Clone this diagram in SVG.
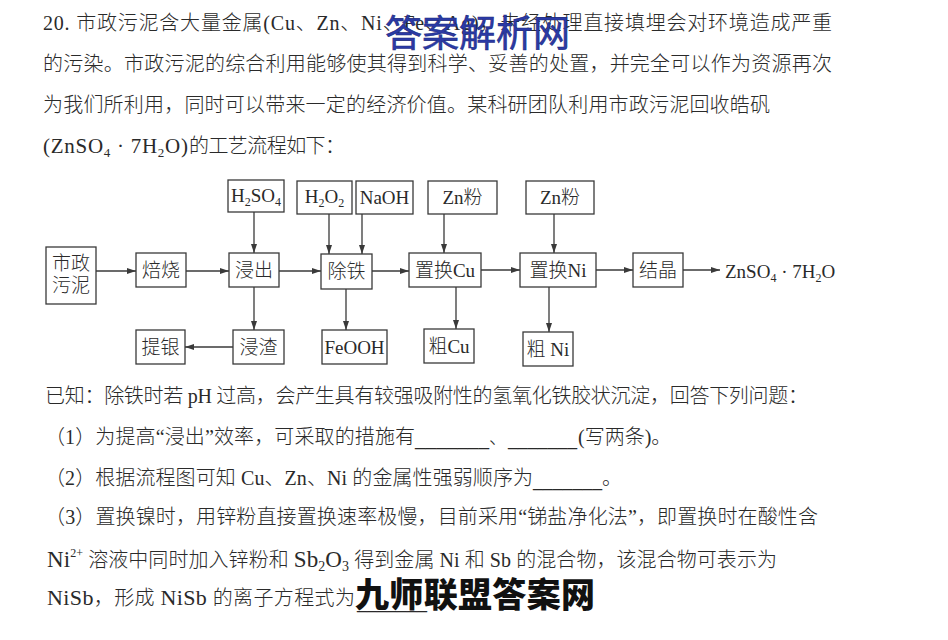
<svg xmlns="http://www.w3.org/2000/svg" width="948" height="640" viewBox="0 0 948 640">
<style>
.t{font-family:"Liberation Serif","Noto Sans CJK SC",serif;font-size:20px;fill:#2a2a2a;font-weight:300}
.b{font-family:"Liberation Serif","Noto Sans CJK SC",serif;font-size:19px;fill:#2a2a2a;font-weight:300;text-anchor:middle}
.box{fill:#fff;stroke:#3a3a3a;stroke-width:1.3}
.ln{stroke:#3a3a3a;stroke-width:1.3;fill:none;marker-end:url(#ah)}
.wm1{font-family:"Noto Sans CJK SC",sans-serif;font-size:37px;fill:#2b3aa6;stroke:#1c2a80;stroke-width:0.6}
.wm2{font-family:"Noto Sans CJK SC",sans-serif;font-size:34px;font-weight:900;fill:#111}
</style>
<defs>
<marker id="ah" markerUnits="userSpaceOnUse" markerWidth="10" markerHeight="8" refX="9" refY="3" orient="auto">
<path d="M0,0 L9,3 L0,6 z" fill="#3a3a3a"/>
</marker>
</defs>
<rect width="948" height="640" fill="#fff"/>

<g id="question-text">
<text class="t" x="43" y="30" textLength="789" lengthAdjust="spacing">20. 市政污泥含大量金属(Cu、Zn、Ni、Fe、Ag)，未经处理直接填埋会对环境造成严重</text>
<text class="t" x="43" y="71" textLength="789" lengthAdjust="spacing">的污染。市政污泥的综合利用能够使其得到科学、妥善的处置，并完全可以作为资源再次</text>
<text class="t" x="43" y="112" textLength="727" lengthAdjust="spacing">为我们所利用，同时可以带来一定的经济价值。某科研团队利用市政污泥回收皓矾</text>
<text class="t" x="43" y="153" style="font-size:21px" textLength="145" lengthAdjust="spacing">(ZnSO<tspan font-size="13" dy="4">4</tspan><tspan dy="-4"> · 7H</tspan><tspan font-size="13" dy="4">2</tspan><tspan dy="-4">O)</tspan></text>
<text class="t" x="189" y="153" textLength="156" lengthAdjust="spacing">的工艺流程如下：</text>

<text class="t" x="45" y="403" textLength="763" lengthAdjust="spacing">已知：除铁时若 pH 过高，会产生具有较强吸附性的氢氧化铁胶状沉淀，回答下列问题：</text>
<text class="t" x="45" y="444" textLength="370" lengthAdjust="spacing">（1）为提高“浸出”效率，可采取的措施有</text>
<text class="t" x="415" y="446" textLength="74" lengthAdjust="spacingAndGlyphs">_______</text>
<text class="t" x="489" y="444" style="font-size:18px">、</text>
<text class="t" x="508" y="446" textLength="69" lengthAdjust="spacingAndGlyphs">_______</text>
<text class="t" x="578" y="444">(写两条)。</text>
<text class="t" x="45" y="485" textLength="488" lengthAdjust="spacing">（2）根据流程图可知 Cu、Zn、Ni 的金属性强弱顺序为</text>
<text class="t" x="533" y="487" textLength="69" lengthAdjust="spacingAndGlyphs">_______</text>
<text class="t" x="602" y="485">。</text>
<text class="t" x="45" y="524" textLength="773" lengthAdjust="spacing">（3）置换镍时，用锌粉直接置换速率极慢，目前采用“锑盐净化法”，即置换时在酸性含</text>
<text class="t" x="47" y="567" textLength="730" lengthAdjust="spacing"><tspan style="font-size:23px">Ni</tspan><tspan font-size="12" dy="-10">2+</tspan><tspan dy="10"> 溶液中同时加入锌粉和 </tspan><tspan style="font-size:23px">Sb</tspan><tspan font-size="14" dy="4">2</tspan><tspan style="font-size:23px" dy="-4">O</tspan><tspan font-size="14" dy="4">3</tspan><tspan dy="-4"> 得到金属 Ni 和 Sb 的混合物，该混合物可表示为</tspan></text>
<text class="t" x="47" y="605" textLength="308" lengthAdjust="spacing"><tspan style="font-size:22px">NiSb</tspan>，形成 <tspan style="font-size:22px">NiSb</tspan> 的离子方程式为</text>
<text class="t" x="357" y="609" textLength="70" lengthAdjust="spacingAndGlyphs">_______</text>
</g>

<g id="connectors">
<line class="ln" x1="96" y1="271" x2="136" y2="271"/>
<line class="ln" x1="186" y1="271" x2="229" y2="271"/>
<line class="ln" x1="279" y1="271" x2="321" y2="271"/>
<line class="ln" x1="372" y1="271" x2="409" y2="271"/>
<line class="ln" x1="481" y1="270" x2="520" y2="270"/>
<line class="ln" x1="596" y1="270" x2="633" y2="270"/>
<line class="ln" x1="683" y1="270" x2="720" y2="270"/>
<line class="ln" x1="254" y1="212" x2="254" y2="253"/>
<line class="ln" x1="254" y1="287" x2="254" y2="330"/>
<line class="ln" x1="233" y1="347" x2="185" y2="347"/>
<line class="ln" x1="329" y1="214" x2="329" y2="254"/>
<line class="ln" x1="362" y1="214" x2="362" y2="254"/>
<line class="ln" x1="346" y1="289" x2="346" y2="330"/>
<line class="ln" x1="444" y1="214" x2="444" y2="253"/>
<line class="ln" x1="554" y1="214" x2="554" y2="253"/>
<line class="ln" x1="456" y1="287" x2="456" y2="329"/>
<line class="ln" x1="549" y1="287" x2="549" y2="332"/>
</g>

<g id="n-sludge"><rect class="box" x="46" y="247" width="50" height="57"/><text class="b" x="71" y="270">市政</text><text class="b" x="71" y="292">污泥</text></g>
<g id="n-roast"><rect class="box" x="136" y="253" width="50" height="34"/><text class="b" x="161" y="277">焙烧</text></g>
<g id="n-leach"><rect class="box" x="229" y="253" width="50" height="34"/><text class="b" x="254" y="277">浸出</text></g>
<g id="n-h2so4"><rect class="box" x="228" y="180" width="56" height="32"/><text class="b" x="256" y="202">H<tspan font-size="12" dy="4">2</tspan><tspan dy="-4">SO</tspan><tspan font-size="12" dy="4">4</tspan></text></g>
<g id="n-h2o2"><rect class="box" x="297" y="181" width="55" height="33"/><text class="b" x="324.5" y="203">H<tspan font-size="12" dy="4">2</tspan><tspan dy="-4">O</tspan><tspan font-size="12" dy="4">2</tspan></text></g>
<g id="n-naoh"><rect class="box" x="356" y="181" width="57" height="33"/><text class="b" x="384.5" y="204">NaOH</text></g>
<g id="n-fe"><rect class="box" x="321" y="254" width="51" height="35"/><text class="b" x="346.5" y="278">除铁</text></g>
<g id="n-ag"><rect class="box" x="136" y="330" width="49" height="34"/><text class="b" x="160.5" y="354">提银</text></g>
<g id="n-residue"><rect class="box" x="233" y="330" width="51" height="34"/><text class="b" x="258.5" y="354">浸渣</text></g>
<g id="n-feooh"><rect class="box" x="322" y="330" width="65" height="34"/><text class="b" x="354.5" y="354">FeOOH</text></g>
<g id="n-zn1"><rect class="box" x="428" y="181" width="69" height="33"/><text class="b" x="462.5" y="204">Zn粉</text></g>
<g id="n-zn2"><rect class="box" x="526" y="181" width="68" height="33"/><text class="b" x="560" y="204">Zn粉</text></g>
<g id="n-cu"><rect class="box" x="409" y="253" width="72" height="34"/><text class="b" x="445" y="277">置换Cu</text></g>
<g id="n-ni"><rect class="box" x="520" y="253" width="76" height="34"/><text class="b" x="558" y="277">置换Ni</text></g>
<g id="n-cryst"><rect class="box" x="633" y="253" width="50" height="34"/><text class="b" x="658" y="277">结晶</text></g>
<g id="n-rcu"><rect class="box" x="424" y="329" width="50" height="34"/><text class="b" x="449" y="353">粗Cu</text></g>
<g id="n-rni"><rect class="box" x="523" y="332" width="50" height="34"/><text class="b" x="548" y="356">粗 Ni</text></g>
<g id="n-product"><text class="t" x="725" y="278" style="font-size:19px">ZnSO<tspan font-size="12" dy="4">4</tspan><tspan dy="-4"> · 7H</tspan><tspan font-size="12" dy="4">2</tspan><tspan dy="-4">O</tspan></text></g>

<g id="watermarks">
<text class="wm1" x="385" y="47" textLength="185" lengthAdjust="spacing">答案解析网</text>
<text class="wm2" x="355" y="607" textLength="240" lengthAdjust="spacing">九师联盟答案网</text>
</g>
</svg>
